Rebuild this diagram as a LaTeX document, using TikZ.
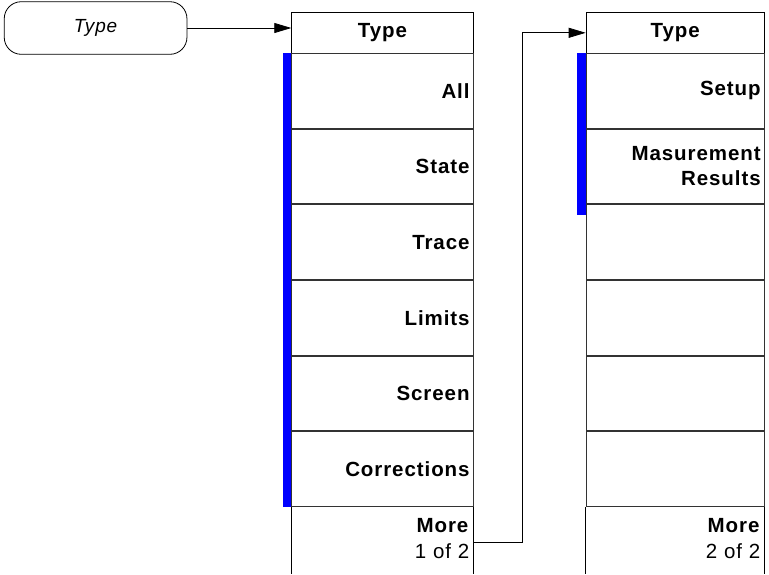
\documentclass[tikz,border=0pt]{standalone}
\usepackage{fontspec}
\setmainfont{Liberation Sans}[LetterSpace=4.5]
\usetikzlibrary{arrows.meta}
\begin{document}
\begin{tikzpicture}[x=1pt,y=-1pt,
  hdrbox/.style={draw=black, line width=0.9pt, minimum height=41.3pt, inner sep=0pt, anchor=north west, align=center, font=\fontsize{20.5}{25}\selectfont\bfseries},
  rowL/.style={draw=black!80, line width=0.9pt, minimum height=74.73pt, inner xsep=3.5pt, inner ysep=0pt, text width=174.3pt, align=right, anchor=north west, font=\fontsize{20.5}{25}\selectfont\bfseries},
  rowR/.style={rowL, text width=171pt},
  morebox/.style={minimum height=63.6pt, inner xsep=3.5pt, inner ysep=0pt, align=right, anchor=north west, font=\fontsize{20.5}{26}\selectfont},
  edge/.style={draw=black, line width=0.9pt},
  conn/.style={draw=black, line width=0.8pt},
  tip/.style={-{Triangle[length=17pt,width=10pt]}},
  bar/.style={fill=blue}
]
\useasboundingbox (0,0) rectangle (769,574);
\coordinate (bottom) at (0,574);

% start oval
\node[draw=black, line width=0.8pt, rounded corners=17pt, minimum width=182.7pt, minimum height=52.6pt,
      font=\fontsize{19}{22}\selectfont\itshape] (oval) at (95.6,28) {Type};

% left menu
\node[hdrbox, minimum width=181.3pt] (hL) at (291.3,11.7) {Type};
\node[rowL] (l1) at (291.3,53) {All};
\node[rowL] (l2) at (l1.south west) {State};
\node[rowL] (l3) at (l2.south west) {Trace};
\node[rowL] (l4) at (l3.south west) {Limits};
\node[rowL] (l5) at (l4.south west) {Screen};
\node[rowL] (l6) at (l5.south west) {Corrections};
\node[morebox, text width=174.3pt] (l7) at (l6.south west) {\textbf{More}\\1 of 2};
\draw[edge] (l6.south west) -- (l6.south west |- bottom);
\draw[edge] (l6.south east) -- (l6.south east |- bottom);
\fill[bar] ([xshift=-8.6pt]l1.north west) rectangle (l6.south west);

% right menu
\node[hdrbox, minimum width=178pt] (hR) at (585.7,11.7) {Type};
\node[rowR] (r1) at (585.7,53) {Setup};
\node[rowR] (r2) at (r1.south west) {Masurement\\Results};
\node[rowR] (r3) at (r2.south west) {};
\node[rowR] (r4) at (r3.south west) {};
\node[rowR] (r5) at (r4.south west) {};
\node[rowR] (r6) at (r5.south west) {};
\node[morebox, text width=171pt] (r7) at (r6.south west) {\textbf{More}\\2 of 2};
\draw[edge] (r6.south west) -- (r6.south west |- bottom);
\draw[edge] (r6.south east) -- (r6.south east |- bottom);
\fill[bar] ([xshift=-9pt]r1.north west) rectangle ([yshift=-10.3pt]r2.south west);

% connectors
\draw[conn, tip] (oval.east) -- (oval.east -| hL.west);
\draw[conn, tip] ([yshift=-3.5pt]l7.east) -- ++(49.7,0) |- (hR.west);
\end{tikzpicture}
\end{document}
